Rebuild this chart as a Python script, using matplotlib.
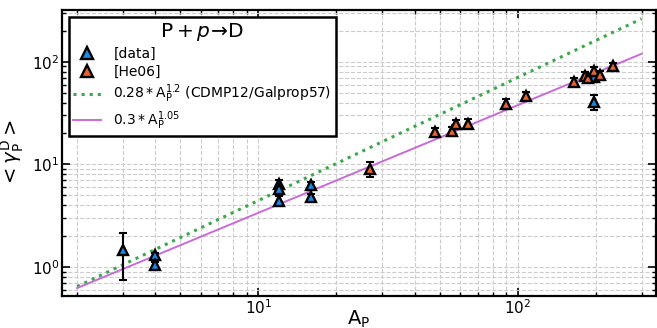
import numpy as np
import matplotlib.pyplot as plt

# measured values: mass number A_P, <gamma>, error
data_A = [3, 4, 4, 12, 12, 12, 16, 16, 197, 197]
data_y = [1.45, 1.30, 1.05, 6.4, 5.7, 4.4, 6.3, 4.8, 71, 40.7]
data_err = [0.7, 0.07, 0.06, 0.7, 0.5, 0.5, 0.5, 0.3, 8, 7]

he06_A = [27, 48, 56, 58, 64, 90, 108, 165, 181, 187, 197, 208, 232]
he06_y = [9.1, 20.5, 21.0, 24.5, 24.8, 39.0, 46.5, 64, 73, 70, 81, 74, 90]
he06_err = [1.5, 2.2, 2.2, 2.5, 2.6, 4, 4.5, 6, 7, 6, 8, 7, 8]

fit_A = np.linspace(2, 300, 400)

fig = plt.figure(figsize=(6.57, 3.28), dpi=100)
ax = fig.add_axes([0.0944, 0.0976, 0.9041, 0.8719])

ax.plot(fit_A, 0.28 * fit_A**1.2, ':', color='#3aa84a', lw=2.2,
        label=r'$0.28 * \mathrm{A_P^{1.2}}$ (CDMP12/Galprop57)')
ax.plot(fit_A, 0.3 * fit_A**1.05, '-', color='#c86bd6', lw=1.4,
        label=r'$0.3 * \mathrm{A_P^{1.05}}$')

ax.errorbar(data_A, data_y, yerr=data_err, fmt='none', ecolor='black',
            elinewidth=1.5, capsize=3, capthick=1.5, zorder=3)
ax.errorbar(he06_A, he06_y, yerr=he06_err, fmt='none', ecolor='black',
            elinewidth=1.5, capsize=3, capthick=1.5, zorder=3)
h1, = ax.plot(data_A, data_y, '^', ms=6.5, mfc='#1e88e5', mec='black',
              mew=1.7, ls='none', zorder=4, label='[data]')
h2, = ax.plot(he06_A, he06_y, '^', ms=6.5, mfc='#e8622e', mec='black',
              mew=1.7, ls='none', zorder=4, label='[He06]')

ax.set_xscale('log')
ax.set_yscale('log')
ax.set_xlim(1.75, 341)
ax.set_ylim(0.52, 320)

ax.grid(True, which='both', ls='--', color='#cccccc', lw=0.8)
ax.set_axisbelow(True)
ax.tick_params(which='both', direction='in', top=True, right=True)
ax.tick_params(which='major', length=6, width=1.2, labelsize=11, pad=2)
ax.tick_params(which='minor', length=3, width=1)
for s in ax.spines.values():
    s.set_linewidth(1.6)

ax.set_xlabel(r'$\mathrm{A_P}$', fontsize=14, labelpad=-6)
ax.set_ylabel(r'$<\gamma_\mathrm{P}^\mathrm{D}>$', fontsize=14, labelpad=4)

handles, labels = ax.get_legend_handles_labels()
order = [2, 3, 0, 1]
leg = ax.legend([handles[i] for i in order], [labels[i] for i in order],
                loc='upper left', title=r'$\mathrm{P}+p\!\rightarrow\!\mathrm{D}$',
                fontsize=10, title_fontsize=14.5, fancybox=False,
                edgecolor='black', framealpha=1, handlelength=2.0,
                borderpad=0.3, labelspacing=0.28, handletextpad=0.9,
                markerscale=1.4)
leg.get_frame().set_linewidth(1.8)

fig.savefig('out.png', dpi=100)
